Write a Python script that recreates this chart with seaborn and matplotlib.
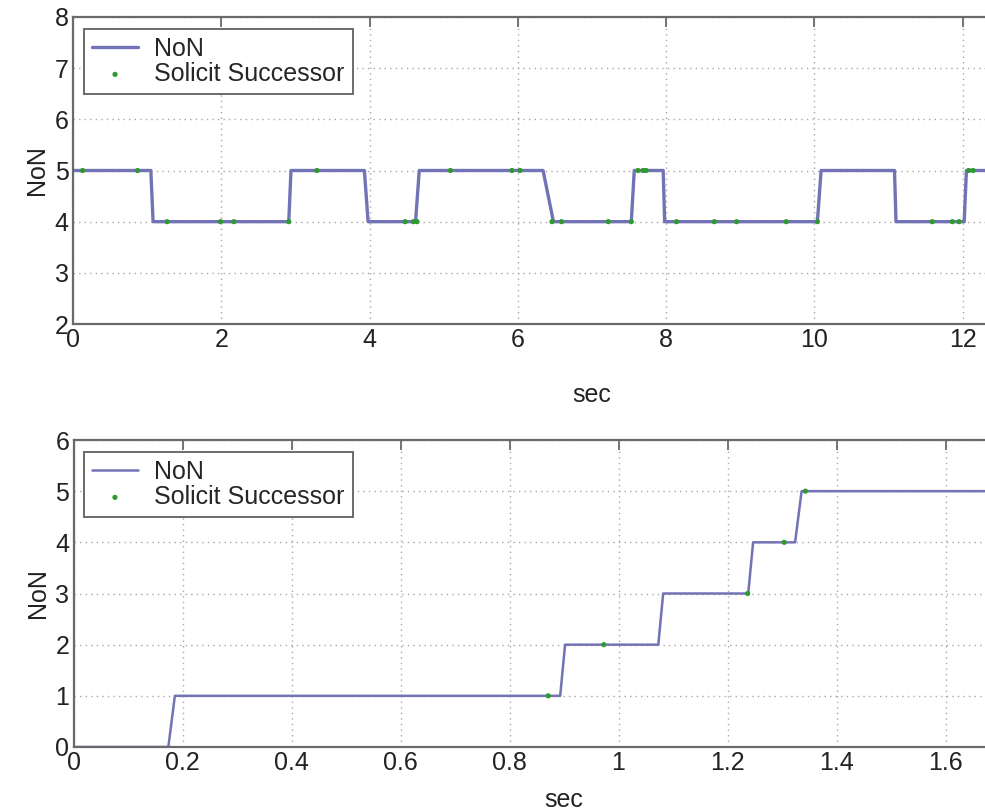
import matplotlib
matplotlib.use("Agg")
import matplotlib.pyplot as plt
import seaborn as sns
import pandas as pd

# ---- data ----
top_t = [0.00, 1.05, 1.08, 2.91, 2.94, 3.93, 3.98, 4.62, 4.67, 6.34, 6.48, 7.53, 7.57,
         7.96, 7.98, 10.04, 10.09, 11.08, 11.10, 12.02, 12.05, 12.40]
top_n = [5, 5, 4, 4, 5, 5, 4, 4, 5, 5, 4, 4, 5, 5, 4, 4, 5, 5, 4, 4, 5, 5]

top_mk_t = [0.13, 0.87, 1.27, 1.99, 2.17, 2.91, 3.29, 4.48, 4.59, 4.64, 5.09, 5.92, 6.03,
            6.46, 6.59, 7.22, 7.53, 7.62, 7.69, 7.73, 8.14, 8.65, 8.95, 9.62, 10.04,
            11.59, 11.86, 11.95, 12.08, 12.14]
top_mk_n = [5, 5, 4, 4, 4, 4, 5, 4, 4, 4, 5, 5, 5, 4, 4, 4, 4, 5, 5, 5, 4, 4, 4, 4, 4,
            4, 4, 4, 5, 5]

bot_t = [0.00, 0.174, 0.186, 0.893, 0.902, 1.073, 1.082, 1.238, 1.247, 1.324, 1.336, 1.80]
bot_n = [0, 0, 1, 1, 2, 2, 3, 3, 4, 4, 5, 5]

bot_mk_t = [0.871, 0.973, 1.237, 1.304, 1.343]
bot_mk_n = [1, 2, 3, 4, 5]

top_xticks = [0, 2, 4, 6, 8, 10, 12]
top_yticks = [2, 3, 4, 5, 6, 7, 8]
bot_xticks = [0, 0.2, 0.4, 0.6, 0.8, 1.0, 1.2, 1.4, 1.6]
bot_xticklabels = ["0", "0.2", "0.4", "0.6", "0.8", "1", "1.2", "1.4", "1.6"]
bot_yticks = [0, 1, 2, 3, 4, 5, 6]

series_labels = ["NoN", "Solicit Successor"]

# ---- style ----
sns.set_style("white")
plt.rcParams["font.family"] = ["Liberation Sans", "DejaVu Sans"]
FS = 18
LINE_C = "#7272b6"
MK_C = "#2f9a2f"
SPINE_C = "#6a6a6a"

fig = plt.figure(figsize=(9.85, 8.10), dpi=100)
ax1 = fig.add_axes([73 / 985, 1 - 324 / 810, 1038 / 985, 307 / 810])
ax2 = fig.add_axes([73.5 / 985, 1 - 747 / 810, 981 / 985, 307 / 810])

def style_axes(ax, xlim, ylim, xticks, yticks, xticklabels=None, labelpad=30):
    ax.set_xlim(*xlim)
    ax.set_ylim(*ylim)
    ax.set_xticks(xticks)
    if xticklabels is not None:
        ax.set_xticklabels(xticklabels)
    ax.set_yticks(yticks)
    ax.grid(True, color="#a8a8a8", linestyle=(0, (1, 3)), linewidth=1.0)
    ax.set_axisbelow(True)
    for s in ax.spines.values():
        s.set_color(SPINE_C)
        s.set_linewidth(1.6)
    ax.tick_params(direction="in", length=7, width=1.3, color=SPINE_C,
                   top=True, right=True, labelsize=FS, pad=3, labelcolor="#222222")
    ax.set_xlabel("sec", fontsize=FS, labelpad=labelpad, color="#222222")
    ax.set_ylabel("NoN", fontsize=FS, labelpad=4, color="#222222")

# top panel
df_top = pd.DataFrame({"t": top_t, "n": top_n})
df_top_mk = pd.DataFrame({"t": top_mk_t, "n": top_mk_n})
sns.lineplot(data=df_top, x="t", y="n", ax=ax1, estimator=None, sort=False,
             color=LINE_C, linewidth=2.4, label=series_labels[0])
sns.scatterplot(data=df_top_mk, x="t", y="n", ax=ax1, color=MK_C, s=14,
                edgecolor="none", label=series_labels[1], zorder=3)
style_axes(ax1, (0, 14), (2, 8), top_xticks, top_yticks, labelpad=22)

# bottom panel
df_bot = pd.DataFrame({"t": bot_t, "n": bot_n})
df_bot_mk = pd.DataFrame({"t": bot_mk_t, "n": bot_mk_n})
sns.lineplot(data=df_bot, x="t", y="n", ax=ax2, estimator=None, sort=False,
             color=LINE_C, linewidth=1.8, label=series_labels[0])
sns.scatterplot(data=df_bot_mk, x="t", y="n", ax=ax2, color=MK_C, s=14,
                edgecolor="none", label=series_labels[1], zorder=3)
style_axes(ax2, (0, 1.8), (0, 6), bot_xticks, bot_yticks, bot_xticklabels, labelpad=9)

for ax in (ax1, ax2):
    leg = ax.legend(loc="upper left", bbox_to_anchor=(0.0105, 0.962), fontsize=FS,
                    frameon=True, fancybox=False, borderpad=0.32, labelspacing=0.05,
                    handlelength=1.85, handletextpad=0.65, borderaxespad=0.0,
                    markerscale=1.0)
    fr = leg.get_frame()
    fr.set_edgecolor(SPINE_C)
    fr.set_linewidth(1.4)
    fr.set_facecolor("white")
    fr.set_alpha(1.0)

fig.savefig("out.png", dpi=100)
